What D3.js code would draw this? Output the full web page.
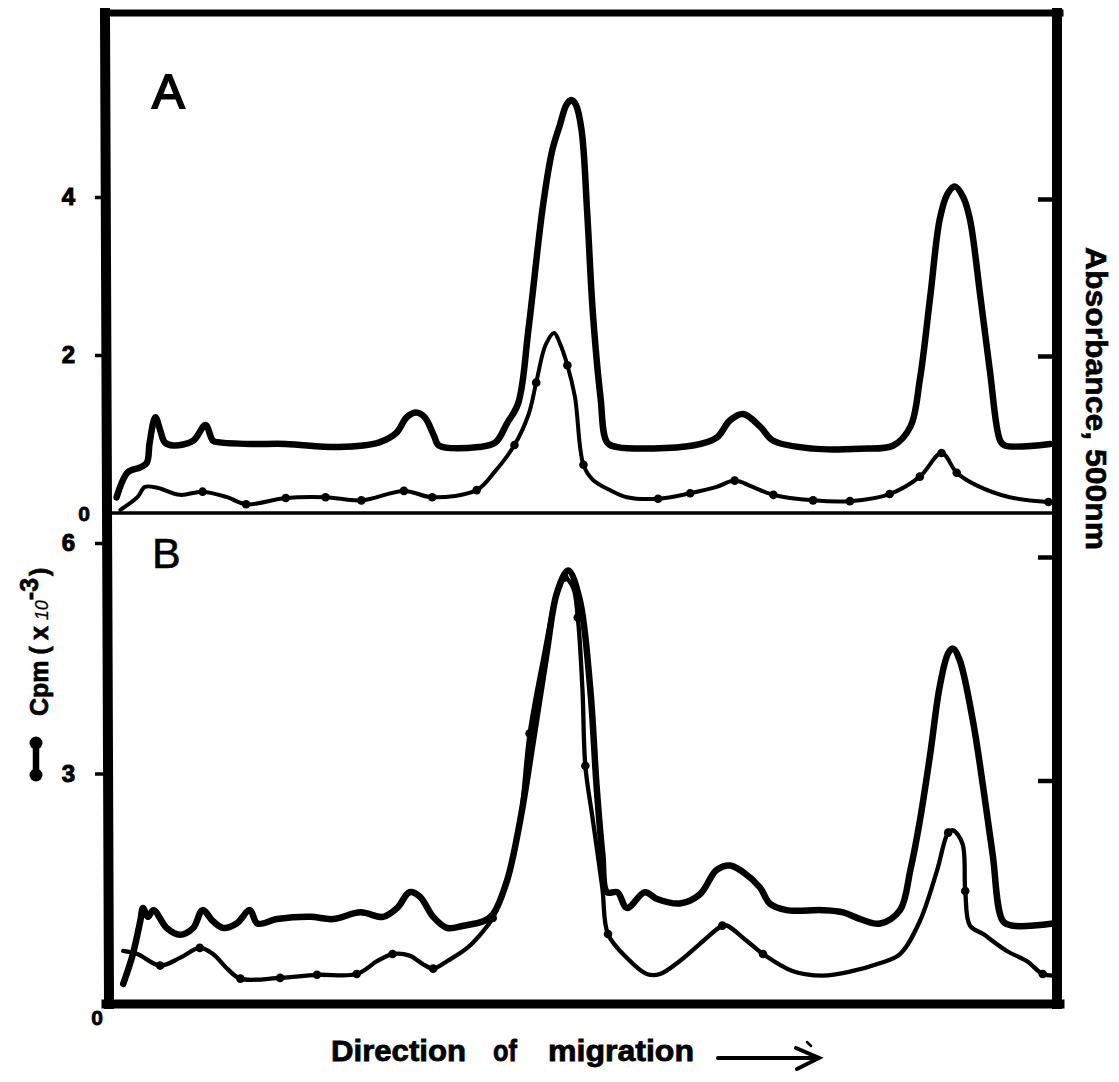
<!DOCTYPE html>
<html>
<head>
<meta charset="utf-8">
<script src="https://cdn.jsdelivr.net/npm/d3@7"></script>
<style>
  html, body { margin: 0; padding: 0; background: #fff; }
  svg { display: block; }
  text { font-family: "Liberation Sans", Arial, Helvetica, sans-serif; fill: #000; }
</style>
</head>
<body>
<svg id="chart" width="1119" height="1082"></svg>
<script>
// ---------- DATA (x = relative migration distance, 0-100) ----------
// Panel A, absorbance at 500 nm (thick trace, right axis)
const panelA_absorbance = [
  [0.7,0.10],[1.9,0.26],[3.2,0.29],[3.9,0.32],[4.2,0.45],[4.8,0.61],[5.3,0.53],[5.8,0.45],
  [6.7,0.43],[8.8,0.46],[10.1,0.56],[10.9,0.46],[11.6,0.45],[14.8,0.44],[18.6,0.44],[24.2,0.42],
  [28.5,0.45],[30.3,0.51],[31.4,0.61],[32.4,0.64],[33.3,0.61],[34.3,0.49],[34.8,0.43],[39.0,0.42],
  [40.8,0.45],[42.0,0.57],[43.2,0.70],[44.3,1.18],[45.8,1.95],[46.8,2.31],[47.6,2.47],[48.3,2.60],
  [48.8,2.63],[49.3,2.60],[49.9,2.44],[50.5,1.91],[51.1,1.27],[51.9,0.74],[52.6,0.45],[53.7,0.42],
  [61.7,0.43],[64.2,0.48],[65.6,0.59],[67.0,0.63],[68.8,0.55],[70.2,0.46],[74.4,0.41],[79.4,0.41],
  [82.9,0.43],[84.7,0.55],[85.7,0.85],[86.8,1.38],[87.8,1.87],[88.6,2.03],[89.4,2.08],[90.3,2.01],
  [91.0,1.87],[92.1,1.38],[93.1,0.91],[94.2,0.46],[94.7,0.43],[99.5,0.44]
];
// Panel A, cpm x 10^-3 (thin trace with points, left axis); third value 1 = plotted point
const panelA_cpm = [
  [1.1,0.04,0],[2.9,0.20,0],[3.7,0.33,0],[5.0,0.32,0],[7.4,0.23,0],[9.8,0.27,1],[12.4,0.20,0],
  [14.4,0.11,1],[18.6,0.19,1],[22.8,0.20,1],[26.6,0.16,1],[31.1,0.28,1],[34.1,0.20,1],[38.8,0.29,1],
  [40.7,0.52,0],[42.8,0.86,1],[44.3,1.25,0],[45.1,1.65,1],[46.1,2.13,0],[47.0,2.28,0],[47.6,2.15,0],
  [48.4,1.87,1],[49.2,1.47,0],[50.1,0.61,1],[51.1,0.42,0],[52.9,0.29,0],[54.7,0.20,0],[58.0,0.18,1],
  [61.4,0.25,1],[64.2,0.33,0],[66.1,0.41,1],[68.0,0.33,0],[70.2,0.23,1],[74.4,0.16,1],[78.3,0.15,1],
  [82.5,0.24,1],[85.7,0.46,1],[88.0,0.76,1],[89.6,0.51,1],[91.7,0.35,0],[95.2,0.20,0],[99.3,0.14,1]
];
// Panel B, absorbance at 500 nm (thick trace, right axis)
const panelB_absorbance = [
  [1.4,0.09],[2.4,0.22],[3.2,0.37],[3.5,0.43],[4.0,0.39],[4.6,0.42],[6.0,0.34],[7.4,0.31],
  [8.8,0.34],[9.8,0.42],[10.9,0.37],[12.0,0.34],[13.4,0.36],[14.8,0.42],[15.6,0.36],[17.7,0.38],
  [21.2,0.39],[23.6,0.38],[26.5,0.41],[28.9,0.39],[30.4,0.43],[31.7,0.50],[32.8,0.48],[34.2,0.39],
  [35.7,0.34],[37.4,0.35],[39.5,0.37],[40.5,0.40],[42.0,0.55],[43.4,0.82],[44.8,1.19],[46.2,1.57],
  [47.3,1.84],[48.5,1.94],[49.7,1.81],[50.8,1.42],[51.5,0.97],[52.1,0.67],[52.6,0.50],[53.7,0.50],
  [54.7,0.43],[56.6,0.50],[57.9,0.47],[60.3,0.45],[62.4,0.49],[64.2,0.60],[65.6,0.62],[67.0,0.59],
  [68.8,0.52],[69.8,0.45],[71.6,0.42],[75.4,0.42],[77.6,0.41],[79.4,0.38],[81.5,0.36],[83.6,0.42],
  [84.7,0.60],[85.7,0.82],[86.8,1.12],[87.8,1.42],[88.7,1.57],[89.2,1.59],[89.9,1.54],[91.3,1.27],
  [92.4,0.97],[93.4,0.67],[94.5,0.37],[95.6,0.35],[99.8,0.36]
];
// Panel B, cpm x 10^-3 (thin trace with points, left axis)
const panelB_cpm = [
  [1.4,0.69,0],[2.9,0.65,0],[5.3,0.50,1],[7.4,0.60,0],[9.5,0.73,1],[10.9,0.65,0],[12.4,0.46,0],
  [13.8,0.33,1],[18.0,0.34,1],[21.9,0.38,1],[26.1,0.39,1],[28.3,0.56,0],[29.9,0.65,1],[31.7,0.63,0],
  [33.1,0.52,0],[34.2,0.46,1],[35.7,0.56,0],[37.8,0.73,0],[39.5,0.95,0],[40.5,1.12,1],[42.0,1.60,0],
  [43.4,2.39,0],[44.4,3.52,1],[45.8,4.47,0],[47.3,5.35,0],[48.1,5.55,1],[49.0,5.42,0],[49.5,5.03,1],
  [50.0,4.08,0],[50.3,3.10,1],[51.1,2.39,0],[52.1,1.51,0],[52.7,0.91,1],[54.7,0.60,0],[56.8,0.39,0],
  [58.2,0.39,0],[60.3,0.56,0],[62.4,0.78,0],[64.8,1.02,1],[65.3,1.02,0],[67.4,0.82,0],[69.1,0.65,1],
  [72.2,0.43,0],[75.4,0.37,0],[78.6,0.43,0],[81.2,0.52,0],[83.6,0.65,0],[85.7,1.08,0],[87.5,1.73,0],
  [88.7,2.23,1],[89.2,2.26,0],[90.2,2.09,0],[90.5,1.47,1],[91.0,1.02,0],[92.4,0.91,0],[94.9,0.69,0],
  [97.0,0.56,0],[98.7,0.39,1],[99.8,0.37,0]
];
// Tick values
const panelA_cpmTicks = [2, 4];
const panelB_cpmTicks = [3, 6];
const absTicks = [1, 2];
const panelLabels = ["A", "B"];
const leftAxisTitle = "Cpm";
const rightAxisTitle = "Absorbance, 500nm";
const xAxisWords = ["Direction", "of", "migration"];

// ---------- LAYOUT ----------
const svg = d3.select("#chart");
svg.append("rect").attr("width", 1119).attr("height", 1082).attr("fill", "#fff");

const L = 110, R = 1055, TOP = 13, MID = 513, BOT = 1004;
const x = d3.scaleLinear().domain([0, 100]).range([L, R]);
const yA_cpm = d3.scaleLinear().domain([0, 4]).range([MID, 197]);
const yA_abs = d3.scaleLinear().domain([0, 2]).range([MID, 199]);
const yB_cpm = d3.scaleLinear().domain([0, 6]).range([BOT, 543]);
const yB_abs = d3.scaleLinear().domain([0, 2]).range([BOT, 557]);

const curve = d3.curveCatmullRom.alpha(0.5);

function drawCurve(data, y, width) {
  svg.append("path")
    .datum(data)
    .attr("fill", "none")
    .attr("stroke", "#000")
    .attr("stroke-width", width)
    .attr("stroke-linejoin", "round")
    .attr("stroke-linecap", "round")
    .attr("d", d3.line().x(d => x(d[0])).y(d => y(d[1])).curve(curve));
}
function drawDots(data, y) {
  svg.append("g").selectAll("circle")
    .data(data.filter(d => d[2] === 1))
    .join("circle")
    .attr("cx", d => x(d[0]))
    .attr("cy", d => y(d[1]))
    .attr("r", 4.3)
    .attr("fill", "#000");
}

// curves
drawCurve(panelA_absorbance, yA_abs, 6.5);
drawCurve(panelA_cpm, yA_cpm, 4);
drawDots(panelA_cpm, yA_cpm);
drawCurve(panelB_absorbance, yB_abs, 6.5);
drawCurve(panelB_cpm, yB_cpm, 4.3);
drawDots(panelB_cpm, yB_cpm);

// frame
const frame = svg.append("g").attr("stroke", "#000").attr("stroke-linecap", "square");
frame.append("line").attr("x1", 105).attr("y1", TOP).attr("x2", 109).attr("y2", BOT).attr("stroke-width", 10);
frame.append("line").attr("x1", 1057).attr("y1", TOP).attr("x2", 1057).attr("y2", BOT).attr("stroke-width", 10);
frame.append("line").attr("x1", 104).attr("y1", TOP).attr("x2", 1060).attr("y2", TOP).attr("stroke-width", 7);
frame.append("line").attr("x1", 106).attr("y1", BOT).attr("x2", 1060).attr("y2", BOT).attr("stroke-width", 9);
frame.append("line").attr("x1", 108).attr("y1", MID).attr("x2", 1056).attr("y2", MID).attr("stroke-width", 3.5);

// left axes
function leftAxis(scale, ticks) {
  const g = svg.append("g").attr("transform", `translate(${L - 2},0)`)
    .call(d3.axisLeft(scale).tickValues(ticks).tickSize(13).tickPadding(20).tickFormat(d3.format("d")));
  g.select(".domain").remove();
  g.selectAll(".tick line").attr("stroke", "#000").attr("stroke-width", 3.5);
  g.selectAll(".tick text").attr("font-size", 24).attr("font-weight", "bold")
    .attr("stroke", "#000").attr("stroke-width", 1)
    .attr("font-family", "'Liberation Sans', Arial, sans-serif");
}
leftAxis(yA_cpm, panelA_cpmTicks);
leftAxis(yB_cpm, panelB_cpmTicks);

// right axes (inward ticks, no labels)
function rightAxis(scale) {
  const g = svg.append("g").attr("transform", `translate(${R + 1},0)`)
    .call(d3.axisLeft(scale).tickValues(absTicks).tickSize(18).tickFormat(""));
  g.select(".domain").remove();
  g.selectAll(".tick line").attr("stroke", "#000").attr("stroke-width", 4.5);
}
rightAxis(yA_abs);
rightAxis(yB_abs);

// zero labels
svg.append("text").attr("x", 84).attr("y", yA_cpm(0) + 8).attr("text-anchor", "middle")
  .attr("font-size", 21).attr("font-weight", "bold").attr("stroke", "#000").attr("stroke-width", 0.8).text("0");
svg.append("text").attr("x", 97).attr("y", yB_cpm(0) + 21).attr("text-anchor", "middle")
  .attr("font-size", 21).attr("font-weight", "bold").attr("stroke", "#000").attr("stroke-width", 0.8).text("0");

// panel letters
svg.append("text").attr("x", 152).attr("y", 108).attr("font-size", 49)
  .attr("stroke", "#000").attr("stroke-width", 1.8).text(panelLabels[0]);
svg.append("text").attr("x", 152).attr("y", 568).attr("font-size", 43)
  .attr("stroke", "#000").attr("stroke-width", 0.6).text(panelLabels[1]);

// left axis title: Cpm (x10^-3), rotated
const lt = svg.append("text")
  .attr("transform", "translate(48,716) rotate(-90)")
  .attr("font-size", 25).attr("font-weight", "bold")
  .attr("stroke", "#000").attr("stroke-width", 0.7);
lt.append("tspan").text(leftAxisTitle);
lt.append("tspan").attr("dx", 6).text("(");
lt.append("tspan").attr("dx", 6).text("x");
lt.append("tspan").attr("dx", 6).attr("font-size", 18).attr("font-style", "italic").attr("font-weight", "normal").attr("stroke-width", 0.3).text("10");
lt.append("tspan").attr("dy", -10).attr("font-size", 25).text("-3");
lt.append("tspan").attr("dy", 10).attr("dx", 2).text(")");

// legend symbol (point-line-point)
const leg = svg.append("g");
leg.append("line").attr("x1", 36).attr("y1", 744).attr("x2", 36).attr("y2", 774)
  .attr("stroke", "#000").attr("stroke-width", 6.5);
leg.append("circle").attr("cx", 36).attr("cy", 743).attr("r", 6.5);
leg.append("circle").attr("cx", 36).attr("cy", 775).attr("r", 6.5);

// right axis title
svg.append("text")
  .attr("transform", "translate(1086,247) rotate(90)")
  .attr("font-size", 29).attr("font-weight", "bold")
  .attr("stroke", "#000").attr("stroke-width", 0.6)
  .attr("textLength", 303).attr("lengthAdjust", "spacingAndGlyphs")
  .text(rightAxisTitle);

// bottom title
const wordX = [331, 493, 548];
const wordW = [135, 24, 146];
xAxisWords.forEach((w, i) => {
  svg.append("text").attr("x", wordX[i]).attr("y", 1061)
    .attr("font-size", 30).attr("font-weight", "bold")
    .attr("stroke", "#000").attr("stroke-width", 0.8)
    .attr("textLength", wordW[i]).attr("lengthAdjust", "spacingAndGlyphs")
    .text(w);
});
// arrow
const arr = svg.append("g").attr("stroke", "#000").attr("stroke-width", 4).attr("fill", "none").attr("stroke-linecap", "round");
arr.append("line").attr("x1", 718).attr("y1", 1058).attr("x2", 818).attr("y2", 1058);
arr.append("polyline").attr("points", "796,1048 819,1058 797,1069");
arr.append("line").attr("x1", 807).attr("y1", 1042).attr("x2", 811).attr("y2", 1046).attr("stroke-width", 2.5);
</script>
</body>
</html>
